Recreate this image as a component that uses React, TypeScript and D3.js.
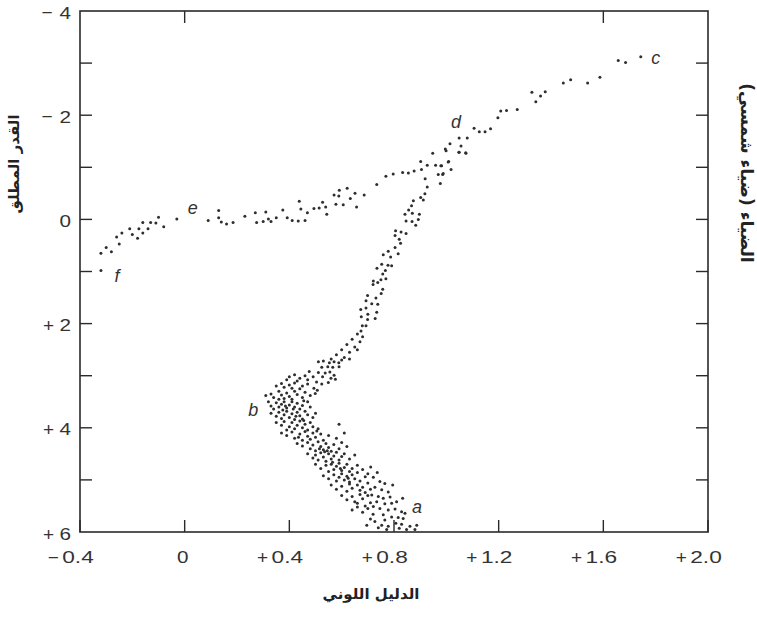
import React from "react";
import * as d3 from "d3";

// B-V colour index (x) and absolute magnitude (y)
const horizontalBranch: [number, number][] = [
  [-0.32, 0.98], [-0.32, 0.65], [-0.30, 0.54], [-0.28, 0.62], [-0.26, 0.34], [-0.25, 0.47],
  [-0.24, 0.26], [-0.21, 0.18], [-0.20, 0.29], [-0.18, 0.36], [-0.175, 0.18], [-0.16, 0.06],
  [-0.16, 0.26], [-0.14, 0.18], [-0.13, 0.06], [-0.11, 0.07], [-0.10, -0.04], [-0.08, 0.14],
  [-0.03, -0.01], [0.09, 0.02], [0.13, -0.17], [0.13, -0.03], [0.14, 0.05], [0.16, 0.09],
  [0.185, 0.06], [0.23, -0.06], [0.27, -0.13], [0.275, 0.06], [0.30, 0.04], [0.31, -0.14],
  [0.32, -0.01], [0.33, 0.04], [0.35, -0.03], [0.375, -0.18], [0.392, -0.03], [0.411, 0.02],
  [0.434, 0.03], [0.438, -0.35], [0.444, -0.20], [0.46, 0.02], [0.469, -0.13], [0.494, -0.21],
  [0.514, -0.22], [0.527, -0.33], [0.539, -0.24], [0.543, -0.10], [0.571, -0.47], [0.578, -0.29],
  [0.589, -0.45], [0.591, -0.56], [0.606, -0.28], [0.621, -0.60], [0.633, -0.40], [0.651, -0.50],
  [0.657, -0.24], [0.686, -0.47], [0.734, -0.67], [0.769, -0.83], [0.797, -0.87], [0.833, -0.90],
  [0.855, -0.89], [0.877, -0.93],
];

const giantBranch: [number, number][] = [
  [0.902, -1.11], [0.905, -0.96], [0.927, -1.04], [0.948, -1.27], [0.959, -1.04], [0.969, -0.86],
  [0.979, -1.03], [0.986, -0.86], [0.977, -0.69], [0.999, -1.32], [1.009, -1.11], [1.018, -0.96],
  [1.049, -1.29], [1.074, -1.28], [0.982, -1.03], [1.007, -1.10], [0.988, -0.88], [0.996, -1.35],
  [1.014, -1.45], [1.049, -1.56], [1.08, -1.56], [1.056, -1.41], [1.048, -1.29], [1.075, -1.27],
  [1.106, -1.75], [1.126, -1.68], [1.148, -1.68], [1.169, -1.74], [1.197, -1.95], [1.208, -2.08],
  [1.23, -2.09], [1.271, -2.11], [1.327, -2.44], [1.342, -2.26], [1.36, -2.37], [1.378, -2.45],
  [1.447, -2.62], [1.475, -2.68], [1.54, -2.62], [1.587, -2.73], [1.657, -3.05], [1.685, -3.01],
  [1.743, -3.12],
];

const redGiantBranch: [number, number][] = [
  [0.919, -0.78], [0.927, -0.62], [0.918, -0.49], [0.902, -0.42], [0.912, -0.37], [0.874, -0.36],
  [0.867, -0.26], [0.856, -0.18], [0.870, -0.12], [0.842, -0.10], [0.897, -0.10], [0.893, 0.00],
  [0.846, 0.03], [0.869, 0.04], [0.883, 0.11], [0.806, 0.22], [0.827, 0.24], [0.846, 0.27],
  [0.804, 0.31], [0.820, 0.38], [0.825, 0.46], [0.804, 0.54], [0.778, 0.61], [0.816, 0.66],
  [0.759, 0.68], [0.787, 0.72], [0.753, 0.86], [0.777, 0.88], [0.791, 0.89], [0.735, 0.94],
  [0.767, 0.98], [0.757, 1.05], [0.750, 1.16], [0.769, 1.14], [0.721, 1.18], [0.738, 1.21],
  [0.720, 1.25], [0.757, 1.34], [0.751, 1.42], [0.699, 1.46], [0.731, 1.51], [0.693, 1.56],
  [0.715, 1.62], [0.738, 1.63], [0.673, 1.73], [0.693, 1.70], [0.734, 1.78], [0.700, 1.82],
  [0.675, 1.87], [0.728, 1.90], [0.699, 1.92], [0.679, 2.04], [0.693, 2.04], [0.674, 2.14],
  [0.66, 2.2], [0.68, 2.25], [0.64, 2.3], [0.67, 2.35], [0.62, 2.4], [0.65, 2.45], [0.60, 2.5],
  [0.63, 2.55], [0.66, 2.5], [0.58, 2.6], [0.61, 2.65], [0.56, 2.68], [0.60, 2.7], [0.63, 2.68],
  [0.511, 2.73], [0.53, 2.72], [0.553, 2.75], [0.571, 2.73], [0.589, 2.75], [0.524, 2.84],
  [0.547, 2.83], [0.566, 2.84], [0.59, 2.83], [0.476, 2.92], [0.511, 2.94], [0.537, 2.95],
  [0.555, 2.93], [0.571, 2.99], [0.491, 3.02], [0.527, 3.02], [0.559, 3.05], [0.504, 3.12],
  [0.524, 3.16], [0.549, 3.13], [0.576, 3.07], [0.494, 3.24], [0.507, 3.28], [0.499, 3.34],
];

const mainSequence: [number, number][] = [
  [0.40, 3.02], [0.42, 2.98], [0.44, 3.05], [0.46, 3.0], [0.47, 3.08], [0.43, 3.1], [0.39, 3.08],
  [0.37, 3.15], [0.40, 3.18], [0.42, 3.14], [0.45, 3.2], [0.47, 3.16], [0.38, 3.22], [0.41, 3.24],
  [0.44, 3.25], [0.35, 3.2],
  [0.31, 3.38], [0.33, 3.35], [0.34, 3.42], [0.36, 3.3], [0.37, 3.37], [0.39, 3.33], [0.40, 3.4],
  [0.42, 3.3], [0.43, 3.36], [0.45, 3.42], [0.46, 3.32], [0.48, 3.38], [0.38, 3.44], [0.41, 3.45],
  [0.36, 3.45],
  [0.32, 3.5], [0.33, 3.58], [0.35, 3.52], [0.36, 3.6], [0.37, 3.55], [0.38, 3.5], [0.39, 3.62],
  [0.40, 3.56], [0.41, 3.5], [0.42, 3.6], [0.43, 3.53], [0.44, 3.64], [0.45, 3.57], [0.47, 3.5],
  [0.48, 3.6], [0.34, 3.64], [0.385, 3.58], [0.415, 3.64], [0.455, 3.48],
  [0.33, 3.72], [0.35, 3.78], [0.36, 3.7], [0.37, 3.82], [0.38, 3.75], [0.39, 3.68], [0.40, 3.8],
  [0.41, 3.73], [0.42, 3.84], [0.43, 3.7], [0.44, 3.77], [0.45, 3.83], [0.46, 3.68], [0.47, 3.75],
  [0.49, 3.8], [0.50, 3.72], [0.375, 3.66], [0.425, 3.78],
  [0.35, 3.9], [0.37, 3.95], [0.38, 3.88], [0.40, 3.98], [0.41, 3.9], [0.42, 4.02], [0.43, 3.95],
  [0.44, 3.87], [0.45, 4.0], [0.46, 3.93], [0.47, 4.04], [0.48, 3.9], [0.49, 3.98], [0.51, 4.02],
  [0.59, 3.93], [0.39, 4.04], [0.455, 3.86],
  [0.37, 4.1], [0.39, 4.15], [0.41, 4.08], [0.42, 4.2], [0.44, 4.12], [0.45, 4.24], [0.46, 4.07],
  [0.47, 4.16], [0.48, 4.22], [0.49, 4.1], [0.50, 4.18], [0.52, 4.12], [0.53, 4.24], [0.55, 4.15],
  [0.58, 4.2], [0.61, 4.1], [0.435, 4.18], [0.505, 4.06],
  [0.43, 4.3], [0.45, 4.35], [0.47, 4.28], [0.48, 4.4], [0.49, 4.33], [0.50, 4.44], [0.51, 4.27],
  [0.52, 4.36], [0.53, 4.42], [0.54, 4.3], [0.55, 4.38], [0.56, 4.45], [0.57, 4.32], [0.59, 4.4],
  [0.60, 4.28], [0.62, 4.36], [0.515, 4.4], [0.545, 4.44],
  [0.47, 4.5], [0.49, 4.58], [0.50, 4.52], [0.51, 4.62], [0.52, 4.48], [0.53, 4.56], [0.54, 4.64],
  [0.55, 4.5], [0.56, 4.6], [0.57, 4.54], [0.58, 4.47], [0.59, 4.62], [0.60, 4.55], [0.61, 4.5],
  [0.63, 4.6], [0.65, 4.52], [0.565, 4.66], [0.535, 4.46],
  [0.50, 4.7], [0.52, 4.78], [0.54, 4.72], [0.55, 4.84], [0.56, 4.7], [0.57, 4.8], [0.58, 4.74],
  [0.59, 4.68], [0.60, 4.82], [0.61, 4.76], [0.62, 4.7], [0.63, 4.84], [0.64, 4.78], [0.66, 4.72],
  [0.68, 4.8], [0.595, 4.78],
  [0.53, 4.92], [0.55, 4.98], [0.57, 4.9], [0.58, 5.02], [0.59, 4.95], [0.60, 4.88], [0.61, 5.0],
  [0.62, 4.93], [0.63, 5.04], [0.64, 4.9], [0.65, 4.98], [0.66, 4.86], [0.67, 5.02], [0.69, 4.94],
  [0.70, 4.88], [0.625, 4.97],
  [0.56, 5.1], [0.58, 5.18], [0.60, 5.12], [0.62, 5.22], [0.63, 5.08], [0.64, 5.16], [0.66, 5.1],
  [0.67, 5.2], [0.68, 5.14], [0.70, 5.06], [0.71, 5.18], [0.69, 5.24],
  [0.60, 5.3], [0.62, 5.38], [0.64, 5.32], [0.65, 5.42], [0.67, 5.28], [0.68, 5.36], [0.70, 5.3],
  [0.71, 5.44], [0.66, 5.45],
  [0.64, 5.58], [0.66, 5.52], [0.68, 5.62], [0.70, 5.55], [0.72, 5.66], [0.69, 5.5], [0.71, 5.75],
  [0.74, 5.92], [0.696, 5.87],
  [0.711, 4.75], [0.736, 4.86], [0.721, 4.95], [0.746, 5.03], [0.765, 5.07], [0.795, 5.10],
  [0.727, 5.14], [0.753, 5.19], [0.778, 5.23], [0.715, 5.29], [0.74, 5.32], [0.759, 5.35],
  [0.785, 5.33], [0.833, 5.35], [0.734, 5.42], [0.765, 5.46], [0.791, 5.45], [0.81, 5.42],
  [0.721, 5.51], [0.746, 5.55], [0.778, 5.58], [0.804, 5.56], [0.829, 5.61], [0.842, 5.64],
  [0.759, 5.67], [0.791, 5.71], [0.816, 5.72], [0.835, 5.74], [0.765, 5.77], [0.727, 5.80],
  [0.753, 5.87], [0.778, 5.89], [0.807, 5.83], [0.829, 5.85], [0.861, 5.89], [0.887, 5.87],
  [0.772, 5.95], [0.82, 5.93], [0.848, 5.95], [0.88, 5.95],
];

const xTickValues = [-0.4, 0, 0.4, 0.8, 1.2, 1.6, 2.0];
const xTickLabels = ["\u22120.4", "0", "+0.4", "+0.8", "+1.2", "+1.6", "+2.0"];
const yTickValues = [-4, -2, 0, 2, 4, 6];
const yTickLabels = ["\u22124", "\u22122", "0", "+2", "+4", "+6"];
const yMinorTicks = [-3, -2, -1, 0, 1, 2, 3, 4, 5];
const topTicks = [0, 1.6];

const pointLabels: { t: string; x: number; y: number }[] = [
  { t: "a", x: 0.888, y: 5.64 },
  { t: "b", x: 0.262, y: 3.77 },
  { t: "c", x: 1.80, y: -2.98 },
  { t: "d", x: 1.037, y: -1.76 },
  { t: "e", x: 0.031, y: -0.10 },
  { t: "f", x: -0.259, y: 1.20 },
];

const xTitle = "الدليل اللوني";
const yTitleLeft = "القدر المطلق";
const yTitleRight = "الضياء (ضياء شمسي)";

function splitSign(s: string): [string, string] {
  const c = s.charAt(0);
  if (c === "+" || c === "\u2212") return [c, s.slice(1)];
  return ["", s];
}

export default function App() {
  const W = 757, H = 619;
  const L = 80, R = 708, T = 11, B = 532;
  const x = d3.scaleLinear().domain([-0.4, 2.0]).range([L, R]);
  const y = d3.scaleLinear().domain([-4, 6]).range([T, B]);
  const tickLen = 12;
  const ink = "#2a2a2a";
  const sans = "'Liberation Sans', Arial, Helvetica, sans-serif";
  const arab = "'DejaVu Sans', sans-serif";
  const allPts = [...horizontalBranch, ...giantBranch, ...redGiantBranch, ...mainSequence];
  return (
    <svg width={W} height={H} style={{ position: "absolute", left: 0, top: 0, background: "#fff" }}>
      <rect x={L} y={T} width={R - L} height={B - T} fill="none" stroke={ink} strokeWidth={1.6} />
      {xTickValues.map((v, i) => {
        const [sg, num] = splitSign(xTickLabels[i]);
        const cx = x(v) - 2;
        const wNum = num.length === 1 ? 11.5 : 31.5;
        return (
          <g key={"xt" + i}>
            <line x1={x(v)} x2={x(v)} y1={B} y2={B - tickLen} stroke={ink} strokeWidth={1.4} />
            <text x={cx} y={563} fontFamily={sans} fontSize={16.5} textAnchor="middle" fill="#333"
              textLength={wNum} lengthAdjust="spacingAndGlyphs">
              {num}
            </text>
            {sg && (
              <text x={cx - wNum / 2 - 3.5} y={sg === "+" ? 564 : 563.5} fontFamily={sans} fontSize={19} textAnchor="end" fill="#333">
                {sg}
              </text>
            )}
          </g>
        );
      })}
      {topTicks.map((v, i) => (
        <line key={"tt" + i} x1={x(v)} x2={x(v)} y1={T} y2={T + tickLen} stroke={ink} strokeWidth={1.4} />
      ))}
      {yMinorTicks.map((v, i) => (
        <g key={"yt" + i}>
          <line x1={L} x2={L + tickLen} y1={y(v)} y2={y(v)} stroke={ink} strokeWidth={1.4} />
          <line x1={R} x2={R - tickLen} y1={y(v)} y2={y(v)} stroke={ink} strokeWidth={1.4} />
        </g>
      ))}
      {yTickValues.map((v, i) => {
        const [sg, num] = splitSign(yTickLabels[i]);
        const by = y(v) + 7.5;
        return (
          <g key={"yl" + i}>
            <text x={71} y={by} fontFamily={sans} fontSize={16.5} textAnchor="end" fill="#333"
              textLength={11.5} lengthAdjust="spacingAndGlyphs">
              {num}
            </text>
            {sg && (
              <text x={sg === "+" ? 54 : 52.5} y={by + (sg === "+" ? 1 : 0.5)} fontFamily={sans} fontSize={19} textAnchor="end" fill="#333">
                {sg}
              </text>
            )}
          </g>
        );
      })}
      {allPts.map((p, i) => (
        <circle key={"p" + i} cx={x(p[0])} cy={y(p[1])} r={1.5} fill="#2e2e2e" />
      ))}
      {pointLabels.map((l, i) => (
        <text key={"l" + i} x={x(l.x)} y={y(l.y)} fontFamily={sans} fontStyle="italic" fontSize={18} textAnchor="middle" fill="#333">
          {l.t}
        </text>
      ))}
      <text x={371} y={599} fontFamily={arab} fontWeight="bold" fontSize={15} textAnchor="middle" direction="rtl" fill="#222">
        {xTitle}
      </text>
      <text transform="translate(18.5,164) rotate(-90)" fontFamily={arab} fontWeight="bold" fontSize={15} textAnchor="middle" direction="rtl" fill="#222">
        {yTitleLeft}
      </text>
      <text transform="translate(741,173) rotate(90)" fontFamily={arab} fontWeight="bold" fontSize={17} textAnchor="middle" direction="rtl" fill="#222">
        {yTitleRight}
      </text>
    </svg>
  );
}
